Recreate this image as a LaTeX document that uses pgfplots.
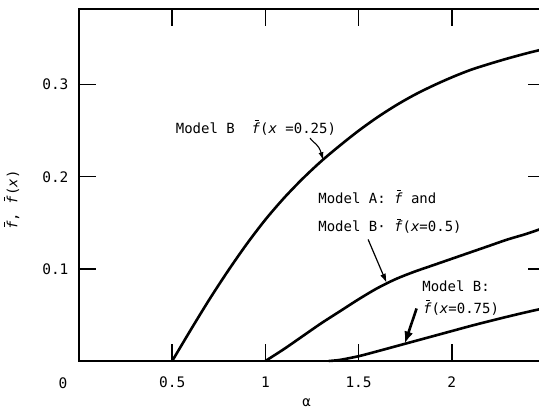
\documentclass[border=0pt]{standalone}
\usepackage{fontspec}
\setmainfont{DejaVu Sans Mono}
\usepackage{pgfplots}
\pgfplotsset{compat=1.18}
\usetikzlibrary{arrows.meta}
\newcommand\tickfont{\fontsize{14.5}{16}\selectfont}
\newcommand\annotfont{\fontsize{14}{16}\selectfont}
\newcommand\fb{\textit{\ooalign{f\cr\hidewidth\kern0.12em\rule[0.86em]{0.3em}{0.08em}\hidewidth\cr}}}
\begin{document}
\begin{tikzpicture}
\path[use as bounding box] (-79pt,-48pt) rectangle (460pt,361pt);
\begin{axis}[
  at={(0,0)}, anchor=south west,
  scale only axis, width=466pt, height=352pt,
  xmin=0, xmax=2.5, ymin=0, ymax=0.3822,
  axis line style={line width=1.6pt},
  tick style={line width=1.4pt, black},
  major tick length=17pt, tick align=inside,
  xtick={0.5,1,1.5,2}, xticklabels={0.5,1,1.5,2},
  ytick={0.1,0.2,0.3}, yticklabels={0.1,0.2,0.3},
  ticklabel style={font=\tickfont},
  xticklabel style={yshift=-12pt},
  yticklabel style={xshift=-7pt},
  xlabel={α},
  xlabel style={at={(axis description cs:0.4886,0)}, anchor=center, yshift=-42pt, font=\annotfont},
  ylabel={\fb, \fb(\textit{x})},
  ylabel style={at={(axis description cs:-0.1416,0.4574)}, anchor=center, font=\annotfont},
  clip=false,
]
% Model B, x = 0.25
\addplot[black, line width=2.6pt, smooth] coordinates {
 (0.5,0) (0.6,0.034) (0.7,0.067) (0.8,0.098) (0.9,0.127) (1.0,0.1535)
 (1.1,0.177) (1.2,0.198) (1.3,0.217) (1.4,0.234) (1.5,0.250) (1.6,0.2645)
 (1.7,0.2775) (1.8,0.289) (1.9,0.299) (2.0,0.308) (2.1,0.316) (2.2,0.3225)
 (2.3,0.3285) (2.4,0.334) (2.5,0.339)};
% Model A / Model B, x = 0.5
\addplot[black, line width=2.6pt, smooth] coordinates {
 (1.0,0) (1.1,0.013) (1.2,0.027) (1.3,0.041) (1.4,0.054) (1.5,0.067)
 (1.6,0.079) (1.7,0.089) (1.8,0.097) (1.9,0.104) (2.0,0.111) (2.1,0.118)
 (2.2,0.125) (2.3,0.132) (2.4,0.138) (2.5,0.145)};
% Model B, x = 0.75
\addplot[black, line width=2.6pt, smooth] coordinates {
 (1.34,0) (1.4,0.0012) (1.5,0.0052) (1.6,0.0105) (1.7,0.016) (1.8,0.0215)
 (1.9,0.027) (2.0,0.0325) (2.1,0.038) (2.2,0.0432) (2.3,0.0482) (2.4,0.053)
 (2.5,0.0575)};
% labels
\node[font=\tickfont] at (axis cs:0,0) [xshift=-16pt, yshift=-22pt] {0};
\node[font=\annotfont, anchor=base west, inner sep=0pt] at (axis cs:0.5185,0.2472) {Model B\ \ \fb(\textit{x} =0.25)};
\node[font=\annotfont, anchor=base west, inner sep=0pt] at (axis cs:1.283,0.1712) {Model A: \fb\ and};
\node[font=\annotfont, anchor=base west, inner sep=0pt] at (axis cs:1.283,0.1404) {Model B· \fb(\textit{x}=0.5)};
\node[font=\annotfont, anchor=base west, inner sep=0pt] at (axis cs:1.841,0.0752) {Model B:};
\node[font=\annotfont, anchor=base west, inner sep=0pt] at (axis cs:1.845,0.0518) {\fb(\textit{x}=0.75)};
% arrows
\draw[line width=1.1pt, -{Latex[length=8pt,width=5pt]}] (axis cs:1.239,0.242) .. controls (axis cs:1.26,0.236) and (axis cs:1.285,0.236) .. (axis cs:1.31,0.218);
\draw[line width=1.2pt, -{Latex[length=9pt,width=6pt]}] (axis cs:1.551,0.132) -- (axis cs:1.65,0.085);
\draw[line width=2.6pt, -{Latex[length=12pt,width=9pt]}] (axis cs:1.811,0.057) -- (axis cs:1.748,0.019);
\end{axis}
\end{tikzpicture}
\end{document}
